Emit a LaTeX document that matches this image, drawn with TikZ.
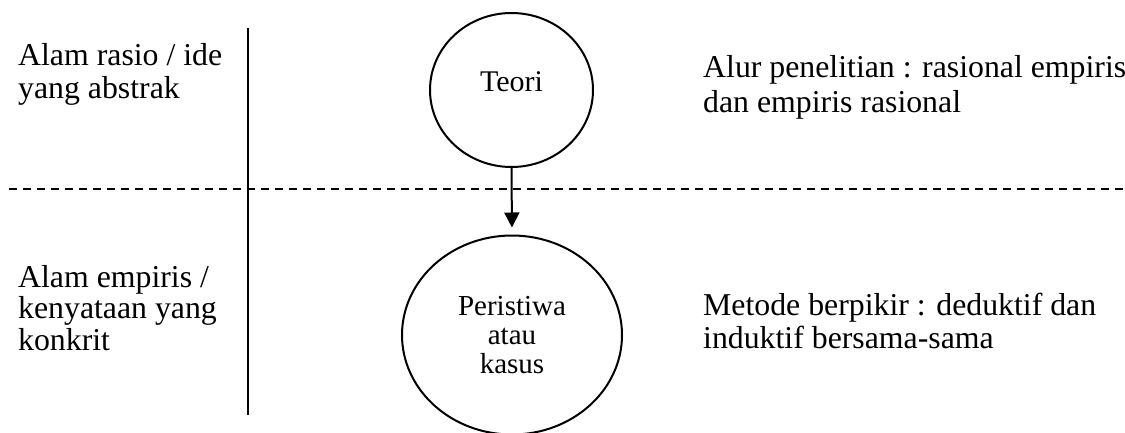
\documentclass[tikz,border=0pt]{standalone}
\usepackage{fontspec}
\setmainfont{Liberation Serif}
\usetikzlibrary{shapes.geometric,arrows.meta}
\begin{document}
\begin{tikzpicture}[x=1pt,y=-1pt,
  bigtext/.style={font=\fontsize{31.8}{33}\selectfont, inner sep=0pt, align=left, anchor=base west},
  circ/.style={draw, ellipse, line width=2pt, inner sep=0pt},
  conn/.style={line width=2pt, -{Triangle[width=15pt,length=15pt]}}
]
\useasboundingbox (0,0) rectangle (1125,432);
% divider lines
\coordinate (vtop) at (248,28);
\coordinate (vbot) at (248,415);
\draw[line width=2.6pt] (vtop) -- (vbot);
\coordinate (dl) at (9,189);
\coordinate (dr) at (1124,189);
\draw[line width=2pt, dash pattern=on 8pt off 6pt] (dl) -- (dr);
% nodes
\node[circ, minimum width=163pt, minimum height=154pt,
      font=\fontsize{30}{30}\selectfont, text depth=16pt] (teori) at (511.5,90) {Teori};
\node[circ, minimum width=220pt, minimum height=199pt, align=center,
      font=\fontsize{29}{28.7}\selectfont] (kasus) at (512,335) {Peristiwa\\atau\\kasus};
\draw[conn, shorten >=7pt] (teori.south) -- (kasus.north);
% texts (base anchor = baseline of last line)
\node[bigtext] (rasio) at (18,98) {Alam rasio / ide\\yang abstrak};
\node[bigtext, font=\fontsize{31.8}{31.5}\selectfont] (empiris) at (18,350) {Alam empiris /\\kenyataan yang\\konkrit};
\node[bigtext, font=\fontsize{31.8}{35}\selectfont] (alur) at (703,112) {Alur penelitian : rasional empiris\\dan empiris rasional};
\node[bigtext] (metode) at (703,348) {Metode berpikir : deduktif dan\\induktif bersama-sama};
\end{tikzpicture}
\end{document}
